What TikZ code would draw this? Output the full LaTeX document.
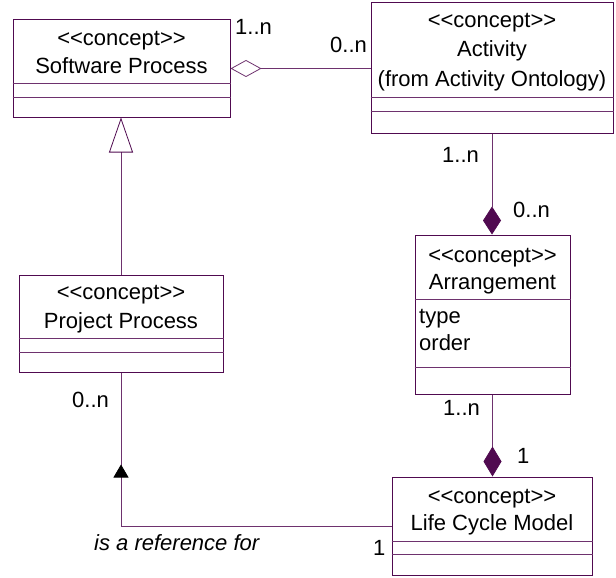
\documentclass[tikz,border=0pt]{standalone}
\usepackage{fontspec}
\setmainfont{Liberation Sans}[Ligatures=TeXOff]
\usetikzlibrary{arrows.meta,calc,decorations.markings}
\definecolor{umlline}{RGB}{80,10,80}
\definecolor{umlthin}{RGB}{110,50,110}
% stereotype in plain angle brackets (no guillemet ligature)
\newcommand{\stereotype}[1]{<\kern0pt<#1>\kern0pt>}
\begin{document}
\begin{tikzpicture}[x=1pt,y=-1pt,
  font=\fontsize{22}{27}\selectfont,
  classbox/.style={draw=umlline, line width=1pt, fill=white, inner sep=0pt},
  divider/.style={draw=umlthin, line width=0.8pt},
  txt/.style={inner sep=0pt, anchor=base},
  lbl/.style={inner sep=0pt, anchor=base west},
  conn/.style={draw=umlthin, line width=0.8pt}]
\useasboundingbox (0,0) rectangle (616,578);

% class boxes
\node[classbox, minimum width=217pt, minimum height=97pt] (sp) at (121.5,68.5) {};
\node[classbox, minimum width=242pt, minimum height=130pt] (act) at (492,68) {};
\node[classbox, minimum width=155pt, minimum height=159pt] (arr) at (492.5,314.5) {};
\node[classbox, minimum width=200pt, minimum height=98pt] (lcm) at (492,526) {};
\node[classbox, minimum width=204pt, minimum height=97pt] (pp) at (121,323.5) {};

% compartment dividers
\draw[divider] ($(sp.north west)+(0,64)$) -- ($(sp.north east)+(0,64)$);
\draw[divider] ($(sp.north west)+(0,78)$) -- ($(sp.north east)+(0,78)$);
\draw[divider] ($(act.north west)+(0,95)$) -- ($(act.north east)+(0,95)$);
\draw[divider] ($(act.north west)+(0,109)$) -- ($(act.north east)+(0,109)$);
\draw[divider] ($(arr.north west)+(0,65)$) -- ($(arr.north east)+(0,65)$);
\draw[divider] ($(arr.north west)+(0,133)$) -- ($(arr.north east)+(0,133)$);
\draw[divider] ($(lcm.north west)+(0,65)$) -- ($(lcm.north east)+(0,65)$);
\draw[divider] ($(lcm.north west)+(0,78)$) -- ($(lcm.north east)+(0,78)$);
\draw[divider] ($(pp.north west)+(0,64)$) -- ($(pp.north east)+(0,64)$);
\draw[divider] ($(pp.north west)+(0,78)$) -- ($(pp.north east)+(0,78)$);

% class texts
\node[txt] (sp-st) at (121.5,46) {\stereotype{concept}};
\node[txt] (sp-nm) at (121.5,74) {Software Process};
\node[txt] (act-st) at (492,28) {\stereotype{concept}};
\node[txt] (act-nm) at (492,57) {Activity};
\node[txt] (act-fr) at (492,86) {(from Activity Ontology)};
\node[txt] (arr-st) at (492.5,262) {\stereotype{concept}};
\node[txt] (arr-nm) at (492.5,289) {Arrangement};
\node[lbl] (arr-a1) at (419,323) {type};
\node[lbl] (arr-a2) at (419,350) {order};
\node[txt] (lcm-st) at (492,503) {\stereotype{concept}};
\node[txt] (lcm-nm) at (492,530) {Life Cycle Model};
\node[txt] (pp-st) at (121,299) {\stereotype{concept}};
\node[txt] (pp-nm) at (121,328) {Project Process};

% connectors
\draw[conn, {Diamond[open,length=31pt,width=17pt]}-] (sp.east) -- (sp.east -| act.west);
\draw[conn, -{Diamond[length=28pt,width=18pt,color=umlline]}] (act.south) -- (act.south |- arr.north);
\draw[conn, -{Diamond[length=30pt,width=18pt,color=umlline]}] (arr.south) -- (arr.south |- lcm.north);
\draw[conn, -{Triangle[open,length=35pt,width=24pt,color=umlline]}] (pp.north) -- (pp.north |- sp.south);
\draw[conn, postaction={decorate},
  decoration={markings, mark=at position 332pt with {\arrow{Triangle[length=13pt,width=15pt,color=black]}}}]
  (lcm.west) -| (pp.south);

% multiplicities and role text
\node[lbl] (m1) at (235,35) {1..n};
\node[lbl] (m2) at (330,53) {0..n};
\node[lbl] (m3) at (442,162) {1..n};
\node[lbl] (m4) at (513,217) {0..n};
\node[lbl] (m5) at (443,415) {1..n};
\node[lbl] (m6) at (517,463) {1};
\node[lbl] (m7) at (72,407) {0..n};
\node[lbl] (m8) at (373,555) {1};
\node[lbl] (role) at (94,550) {\itshape is a reference for};
\end{tikzpicture}
\end{document}
